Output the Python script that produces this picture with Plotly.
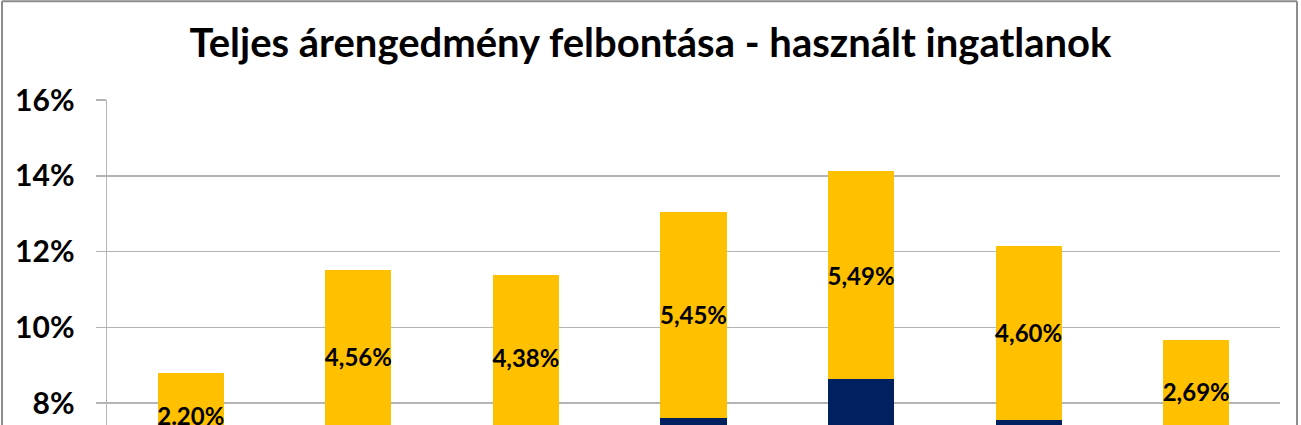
import plotly.graph_objects as go

categories = ["1", "2", "3", "4", "5", "6", "7"]
base_values = [6.58, 6.95, 7.00, 7.60, 8.63, 7.55, 6.97]
discount_values = [2.20, 4.56, 4.38, 5.45, 5.49, 4.60, 2.69]
discount_labels = ["2.20%", "4,56%", "4,38%", "5,45%", "5,49%", "4,60%", "2,69%"]
y_ticks = [8, 10, 12, 14, 16]
y_tick_labels = ["8%", "10%", "12%", "14%", "16%"]

FONT = "Lato"
fig = go.Figure()
fig.add_trace(go.Bar(
    x=categories, y=base_values, marker=dict(color="#002060", line=dict(width=0)),
    hoverinfo="skip", name="alap",
))
fig.add_trace(go.Bar(
    x=categories, y=discount_values, marker=dict(color="#FFC000", line=dict(width=0)),
    text=discount_labels, textposition="inside", insidetextanchor="middle",
    textangle=0, constraintext="none",
    textfont=dict(family=FONT, size=24, color="black", weight="bold"),
    hoverinfo="skip", name="árengedmény",
))

# chart border
for xs, ys in [((-0.0895, -0.0895), (-0.1, 1.3035)),
               ((-0.0895, 1.0145), (1.3035, 1.3035)),
               ((1.0145, 1.0145), (-0.1, 1.3035))]:
    fig.add_shape(type="line", xref="paper", yref="paper",
                  x0=xs[0], x1=xs[1], y0=ys[0], y1=ys[1],
                  line=dict(color="#8c8c8c", width=2), layer="above")

fig.update_layout(
    width=1301, height=425,
    margin=dict(l=107, r=21, t=100, b=0),
    barmode="stack", bargap=0.606,
    showlegend=False,
    plot_bgcolor="white", paper_bgcolor="white",
    title=dict(text="<b>Teljes árengedmény felbontása - használt ingatlanok</b>",
               x=0.5, xref="container", xanchor="center",
               y=1 - 43 / 425, yref="container", yanchor="middle",
               font=dict(family=FONT, size=40, color="black")),
    xaxis=dict(showticklabels=False, showgrid=False, showline=False, ticks="",
               range=[-0.5, 6.5]),
    yaxis=dict(range=[8 - 22 / 37.875, 16], tickvals=y_ticks, ticktext=y_tick_labels,
               showgrid=True, gridcolor="#b4b4b4", gridwidth=1.5,
               showline=True, linecolor="#b4b4b4", linewidth=1.5,
               ticks="outside", ticklen=10, tickcolor="#b4b4b4", tickwidth=1.5,
               ticklabelstandoff=15,
               tickfont=dict(family=FONT, size=30, color="black", weight="bold"),
               zeroline=False),
)

fig.write_html(
    "out.html",
    config={"displayModeBar": False, "staticPlot": True},
    post_script="document.body.style.margin='0';document.body.style.overflow='hidden';",
)
